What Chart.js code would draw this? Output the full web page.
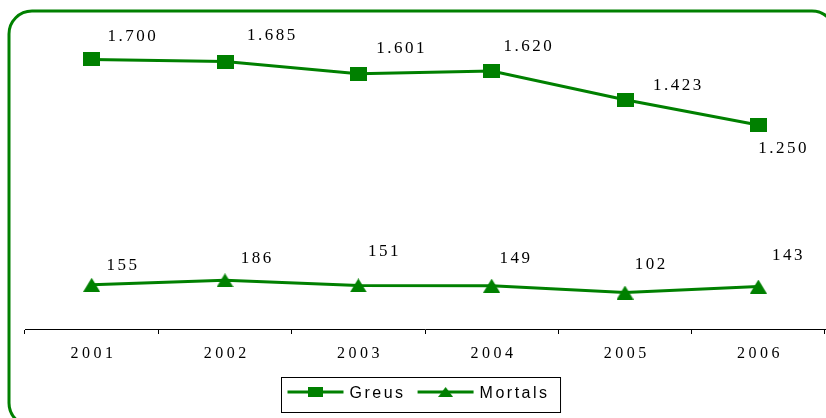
<!DOCTYPE html>
<html>
<head>
<meta charset="utf-8">
<script src="https://cdn.jsdelivr.net/npm/chart.js@4"></script>
<style>
  html, body { margin: 0; padding: 0; background: #fff; }
</style>
</head>
<body>
<canvas id="chart" width="826" height="418"></canvas>
<script>
var years = ['2001', '2002', '2003', '2004', '2005', '2006'];
var greus = [1700, 1685, 1601, 1620, 1423, 1250];
var mortals = [155, 186, 151, 149, 102, 143];
var seriesNames = ['Greus', 'Mortals'];

// value labels: centre of the text, relative to its point
var greusLabelShift = [[40, -24], [46, -28], [42, -27], [36, -26], [52, -16], [24, 22]];
var mortalsLabelShift = [[30, -21], [31, -23], [25, -35], [23, -29], [25, -30], [29, -33]];

var green = '#008000';

function marker(shape, w, h) {
    var c = document.createElement('canvas');
    c.width = w;
    c.height = h;
    var g = c.getContext('2d');
    g.fillStyle = green;
    if (shape == 'square') {
        g.fillRect(0, 0, w, h);
    } else {
        g.beginPath();
        g.moveTo(w / 2, 0);
        g.lineTo(w, h);
        g.lineTo(0, h);
        g.closePath();
        g.fill();
    }
    return c;
}

function dotted(v) {
    return String(v).replace(/\B(?=(\d{3})+(?!\d))/g, '.');
}

var legendMarks = [marker('square', 15, 10), marker('triangle', 15, 10)];

// frame, value labels and the boxed legend
var extras = {
    id: 'extras',
    beforeDraw: function (chart) {
        var ctx = chart.ctx;
        ctx.save();
        ctx.strokeStyle = green;
        ctx.lineWidth = 3;
        ctx.beginPath();
        ctx.roundRect(9, 11, 826, 415, 23);
        ctx.stroke();
        ctx.restore();
        ctx.letterSpacing = '3.5px'; // for the year labels
    },
    afterDatasetsDraw: function (chart) {
        var ctx = chart.ctx;
        var shifts = [greusLabelShift, mortalsLabelShift];
        ctx.save();
        ctx.letterSpacing = '2.5px';
        ctx.font = '17px "Liberation Serif"';
        ctx.fillStyle = '#000';
        ctx.textAlign = 'center';
        ctx.textBaseline = 'alphabetic';
        chart.data.datasets.forEach(function (ds, i) {
            chart.getDatasetMeta(i).data.forEach(function (pt, j) {
                ctx.fillText(dotted(ds.data[j]), pt.x + shifts[i][j][0] + 1.25, pt.y + shifts[i][j][1] + 6);
            });
        });
        ctx.restore();
    },
    afterDraw: function (chart) {
        var ctx = chart.ctx;
        ctx.save();
        ctx.letterSpacing = '2.5px';
        ctx.font = '16px "Liberation Sans"';
        var items = chart.data.datasets.map(function (ds, i) {
            return { label: ds.label, w: ctx.measureText(ds.label).width, mark: legendMarks[i] };
        });
        var boxW = 6 + 11 + 12 * (items.length - 1);
        items.forEach(function (it) { boxW += 62 + it.w; });
        var left = Math.round(420.5 - boxW / 2) + 0.5;
        var top = 377.5;
        ctx.strokeStyle = '#000';
        ctx.lineWidth = 1;
        ctx.strokeRect(left, top, boxW, 35);

        var x = left + 6;
        var y = 392;
        items.forEach(function (it) {
            ctx.strokeStyle = green;
            ctx.lineWidth = 3;
            ctx.beginPath();
            ctx.moveTo(x, y);
            ctx.lineTo(x + 56, y);
            ctx.stroke();
            ctx.drawImage(it.mark, x + 28 - it.mark.width / 2, y - it.mark.height / 2);
            ctx.fillStyle = '#000';
            ctx.textBaseline = 'alphabetic';
            ctx.fillText(it.label, x + 62, 398);
            x += 62 + it.w + 12;
        });
        ctx.restore();
    }
};

new Chart(document.getElementById('chart'), {
    type: 'line',
    data: {
        labels: years,
        datasets: [{
            label: seriesNames[0],
            data: greus,
            borderColor: green,
            backgroundColor: green,
            borderWidth: 3,
            pointStyle: marker('square', 17, 14),
            pointRadius: 8,
            tension: 0
        }, {
            label: seriesNames[1],
            data: mortals,
            borderColor: green,
            backgroundColor: green,
            borderWidth: 3,
            pointStyle: marker('triangle', 17, 14),
            pointRadius: 8,
            tension: 0
        }]
    },
    options: {
        responsive: false,
        animation: false,
        layout: { autoPadding: false, padding: { top: 20, left: 25, right: 1, bottom: 0 } },
        plugins: {
            legend: { display: false },
            tooltip: { enabled: false }
        },
        scales: {
            x: {
                offset: true,
                grid: { offset: true, drawOnChartArea: false, drawTicks: true, tickLength: 5, color: '#000' },
                border: { color: '#000', width: 1 },
                ticks: {
                    color: '#000',
                    font: { family: 'Liberation Serif', size: 16 },
                    padding: 10,
                    labelOffset: 1.75
                },
                afterFit: function (s) {
                    s.height = 89;
                    s.paddingLeft = 0;
                    s.paddingRight = 0;
                }
            },
            y: { display: false, min: -148, max: 1970 }
        }
    },
    plugins: [extras]
});
</script>
</body>
</html>
